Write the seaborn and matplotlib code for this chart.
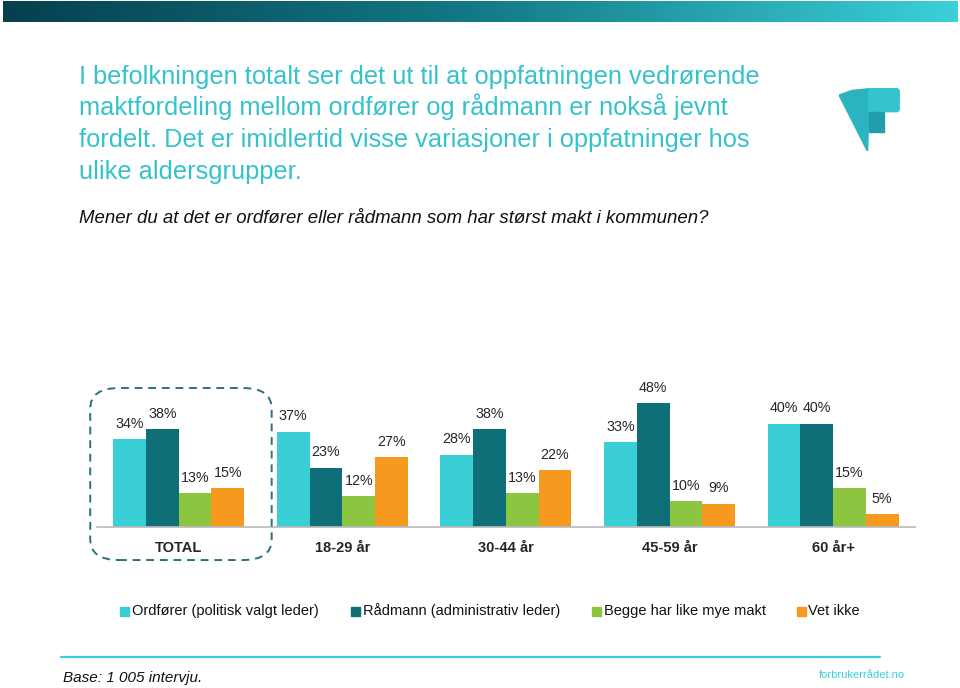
import numpy as np
import pandas as pd
import seaborn as sns
import matplotlib.pyplot as plt
from matplotlib.colors import LinearSegmentedColormap
from matplotlib.patches import FancyBboxPatch, Polygon, Rectangle

# Data
groups = ['TOTAL', '18-29 år', '30-44 år', '45-59 år', '60 år+']
series = ['Ordfører (politisk valgt leder)', 'Rådmann (administrativ leder)',
          'Begge har like mye makt', 'Vet ikke']
ordforer = [34, 37, 28, 33, 40]
radmann = [38, 23, 38, 48, 40]
begge = [13, 12, 13, 10, 15]
vet_ikke = [15, 27, 22, 9, 5]
colors = ['#3ACFD7', '#0E6F79', '#8CC540', '#F69A1F']

heading = ['I befolkningen totalt ser det ut til at oppfatningen vedrørende',
           'maktfordeling mellom ordfører og rådmann er nokså jevnt',
           'fordelt. Det er imidlertid visse variasjoner i oppfatninger hos',
           'ulike aldersgrupper.']

df = pd.DataFrame({
    'gruppe': groups * 4,
    'svar': np.repeat(series, len(groups)),
    'andel': ordforer + radmann + begge + vet_ikke,
})

sns.set_theme(style='white')
plt.rcParams['font.family'] = ['Liberation Sans', 'DejaVu Sans']

fig = plt.figure(figsize=(9.6, 6.88), dpi=100)

# top gradient band
band = fig.add_axes([0.003, 0.968, 0.994, 0.031])
grad = np.linspace(0, 1, 256).reshape(1, -1)
cmap = LinearSegmentedColormap.from_list('band', ['#06404F', '#137A86', '#3BD0D8'])
band.imshow(grad, aspect='auto', cmap=cmap, extent=[0, 1, 0, 1])
band.axis('off')

# heading text, one line at a time (baselines in pixels from top)
for i, line in enumerate(heading):
    y_px = 84 + i * 31.5
    fig.text(0.082, 1 - y_px / 688, line, color='#35C2CB', fontsize=18.3,
             va='baseline')
fig.text(0.082, 0.682, 'Mener du at det er ordfører eller rådmann som har størst makt i kommunen?',
         fontsize=13.45, style='italic', color='#111111', va='center')

# logo
logo = fig.add_axes([0.874, 0.78, 0.066, 0.093])
logo.set_xlim(0, 1)
logo.set_ylim(0, 1)
logo.axis('off')
logo.add_patch(Polygon([[0.0, 0.88], [0.2, 0.95], [0.48, 0.98], [0.45, 0.0]],
                       closed=True, color='#2BB3BF'))
logo.add_patch(FancyBboxPatch((0.47, 0.62), 0.48, 0.36,
                              boxstyle='round,pad=0,rounding_size=0.05', color='#35C4CE'))
logo.add_patch(Rectangle((0.47, 0.3), 0.24, 0.32, color='#1E9FAB'))

# main bar chart
ax = fig.add_axes([0.101, 0.234, 0.852, 0.225])
sns.barplot(data=df, x='gruppe', y='andel', hue='svar', palette=colors,
            width=0.8, saturation=1, linewidth=0, ax=ax, legend=False)
ax.set_ylim(0, 60)
ax.set_xlim(-0.5, 4.5)
ax.set_xlabel('')
ax.set_ylabel('')
ax.set_yticks([])
ax.tick_params(axis='x', length=0, pad=10)
for lbl in ax.get_xticklabels():
    lbl.set_fontweight('bold')
    lbl.set_fontsize(10.5)
for s in ['top', 'right', 'left']:
    ax.spines[s].set_visible(False)
ax.spines['bottom'].set_color('#BBBBBB')
for cont in ax.containers:
    ax.bar_label(cont, labels=[f'{v:.0f}%' for v in cont.datavalues],
                 padding=6, fontsize=10.3)

# dashed rounded box around TOTAL
box = FancyBboxPatch((0.094, 0.186), 0.189, 0.25, boxstyle='round,pad=0,rounding_size=0.03',
                     transform=fig.transFigure, fill=False, edgecolor='#2C6F80',
                     linestyle=(0, (4, 3)), linewidth=1.4)
fig.patches.append(box)

# legend
leg_x = [0.125, 0.366, 0.617, 0.830]
for x, c, s in zip(leg_x, colors, series):
    fig.patches.append(Rectangle((x, 0.105), 0.0095, 0.013, transform=fig.transFigure,
                                 color=c))
    fig.text(x + 0.012, 0.112, s, fontsize=10.5, va='center', color='#111111')

# footer
fig.add_artist(plt.Line2D([0.064, 0.917], [0.045, 0.045], color='#3ACFD7', lw=1.6))
fig.text(0.066, 0.014, 'Base: 1 005 intervju.', fontsize=11, style='italic',
         color='#111111', va='center')
fig.text(0.853, 0.019, 'forbrukerrådet.no', fontsize=8, color='#3ACFD7', va='center')

fig.savefig('out.png', dpi=100)
